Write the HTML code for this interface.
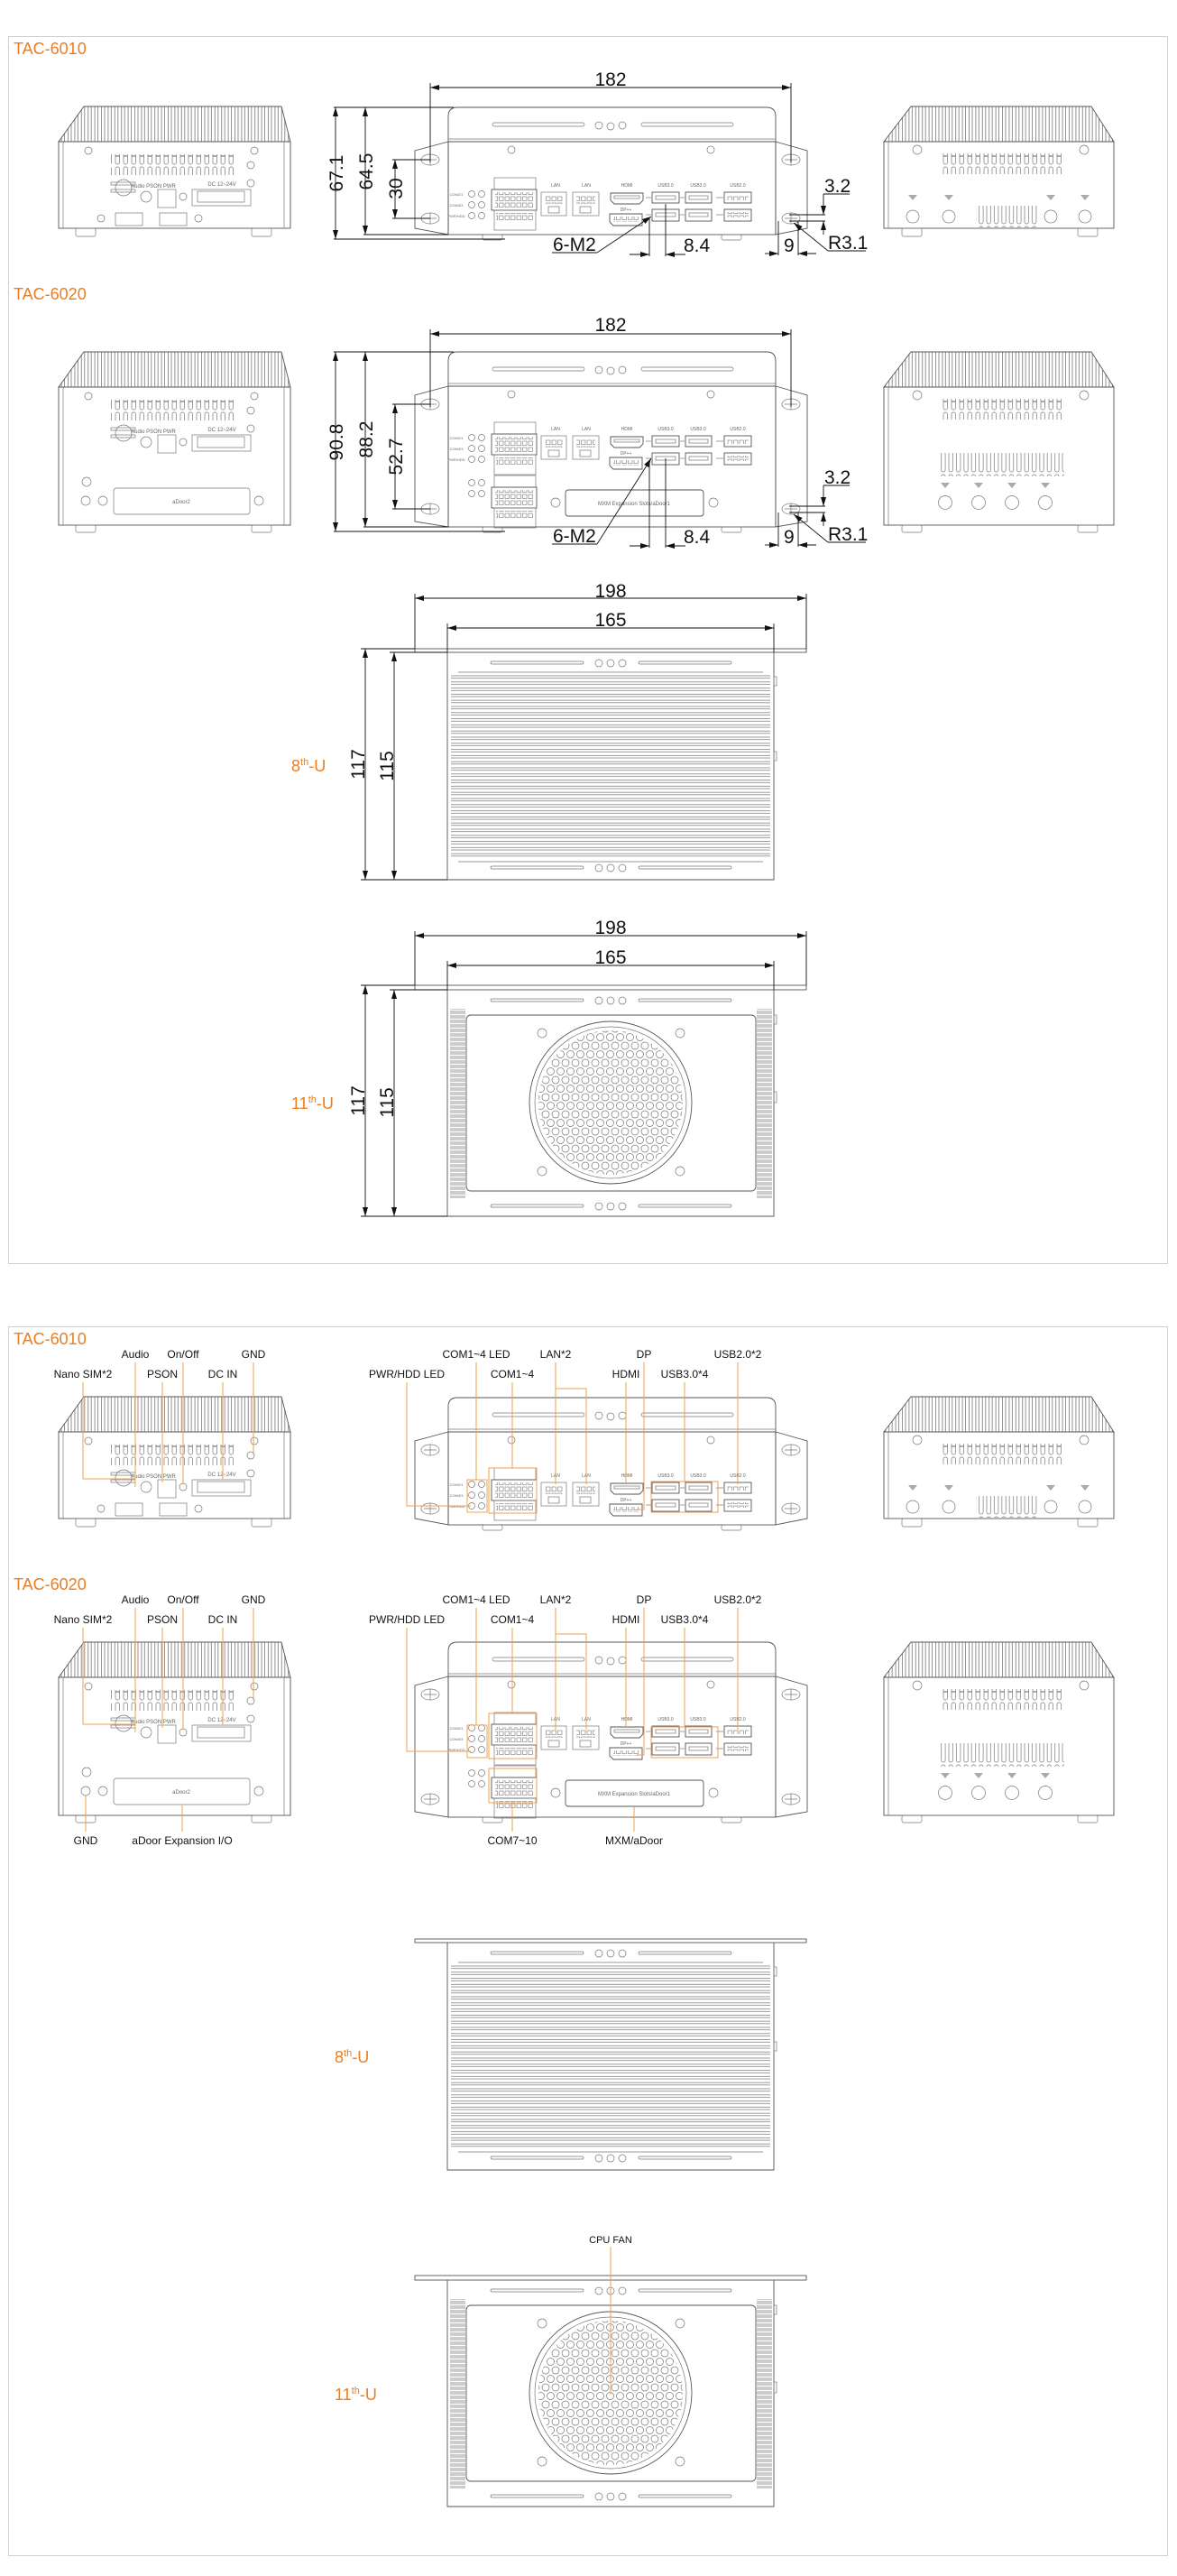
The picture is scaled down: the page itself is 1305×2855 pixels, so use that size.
<!DOCTYPE html>
<html><head><meta charset="utf-8"><style>
html,body{margin:0;padding:0;background:#fff}
svg{display:block}
text{font-family:"Liberation Sans",Arial,sans-serif}
.d{font-size:21px;fill:#111}
.o{fill:#ee7d1a;font-size:18px}
.c{font-size:12px;fill:#111;text-anchor:middle}
.t{font-size:5px;fill:#666;text-anchor:middle}
.s{fill:none;stroke:#555;stroke-width:0.9}
.f{fill:none;stroke:#777;stroke-width:0.7}
.k{fill:none;stroke:#111;stroke-width:0.9}
.ol{fill:none;stroke:#f2a04c;stroke-width:1}
.fin{fill:url(#vf);stroke:#555;stroke-width:0.9}
</style></head><body>
<svg width="1305" height="2855" viewBox="0 0 1305 2855" xmlns="http://www.w3.org/2000/svg">
<defs>
<marker id="ar" viewBox="0 0 10 6" refX="10" refY="3" markerWidth="10" markerHeight="6" orient="auto-start-reverse" markerUnits="userSpaceOnUse"><path d="M0,0 L10,3 L0,6 z" fill="#111"/></marker>
<pattern id="vf" width="7.4" height="10" patternUnits="userSpaceOnUse"><line x1="1.5" y1="0" x2="1.5" y2="10" stroke="#777" stroke-width="0.8"/><line x1="5" y1="0" x2="5" y2="10" stroke="#777" stroke-width="0.8"/></pattern>
<pattern id="vent" width="9" height="23" patternUnits="userSpaceOnUse"><rect x="2" y="1" width="4.5" height="20" rx="2" fill="none" stroke="#777" stroke-width="0.7"/><line x1="2" y1="12" x2="6.5" y2="12" stroke="#777" stroke-width="1.2"/></pattern>
<pattern id="vent2" width="8.4" height="25" patternUnits="userSpaceOnUse"><rect x="2" y="1" width="4.5" height="22" rx="2.2" fill="none" stroke="#777" stroke-width="0.7"/></pattern>
<pattern id="hf" width="20" height="6.8" patternUnits="userSpaceOnUse"><line x1="0" y1="1" x2="20" y2="1" stroke="#777" stroke-width="0.7"/><line x1="0" y1="3.6" x2="20" y2="3.6" stroke="#777" stroke-width="0.7"/></pattern>
<pattern id="hf2" width="20" height="5" patternUnits="userSpaceOnUse"><line x1="0" y1="1" x2="20" y2="1" stroke="#777" stroke-width="0.7"/><line x1="0" y1="3" x2="20" y2="3" stroke="#777" stroke-width="0.7"/></pattern>
<pattern id="hex" width="11" height="19" patternUnits="userSpaceOnUse"><circle cx="0" cy="0" r="4" fill="none" stroke="#777" stroke-width="0.7"/><circle cx="11" cy="0" r="4" fill="none" stroke="#777" stroke-width="0.7"/><circle cx="5.5" cy="9.5" r="4" fill="none" stroke="#777" stroke-width="0.7"/><circle cx="0" cy="19" r="4" fill="none" stroke="#777" stroke-width="0.7"/><circle cx="11" cy="19" r="4" fill="none" stroke="#777" stroke-width="0.7"/></pattern>
<pattern id="pins" width="6.5" height="7" patternUnits="userSpaceOnUse"><rect x="1" y="1" width="4.5" height="4.5" fill="none" stroke="#777" stroke-width="0.6"/></pattern>
<clipPath id="fanc"><circle cx="677" cy="1222" r="80"/></clipPath>

<g id="lfTop">
  <polygon points="93,118 312,118 322,157 65,157" class="fin" style="fill:url(#vf)"/>
  <line x1="65" y1="157" x2="322" y2="157" class="s"/>
  <circle cx="98" cy="167" r="4" class="f"/><circle cx="282" cy="167" r="4" class="f"/>
  <rect x="123" y="171" width="136" height="23" fill="url(#vent)"/>
  <circle cx="278" cy="183" r="4" class="f"/><circle cx="278" cy="203" r="4" class="f"/>
  <rect x="123" y="202" width="27" height="3" class="f"/><rect x="123" y="210" width="27" height="3" class="f"/>
  <circle cx="137" cy="208" r="9" class="f"/>
  <text x="170" y="208" class="t" style="font-size:6px">Audio PSON PWR</text>
  <text x="246" y="206" class="t" style="font-size:6px">DC 12~24V</text>
  <circle cx="162" cy="218" r="6" class="f"/>
  <rect x="175" y="210" width="20" height="20" class="f"/>
  <circle cx="203" cy="218" r="4" class="f"/>
  <rect x="213" y="210" width="65" height="18" class="f"/>
  <rect x="219" y="212" width="52" height="12" class="f"/>
</g>
<g id="lf6010">
  <use href="#lfTop"/>
  <rect x="65" y="157" width="257" height="96" class="s"/>
  <line x1="70" y1="157" x2="70" y2="253" class="f"/><line x1="315" y1="157" x2="315" y2="253" class="f"/>
  <rect x="128" y="236" width="30" height="14" class="f"/><rect x="177" y="236" width="30" height="14" class="f"/>
  <circle cx="112" cy="242" r="4" class="f"/><circle cx="220" cy="242" r="4" class="f"/>
  <rect x="84" y="253" width="22" height="9" rx="2" class="f"/><rect x="279" y="253" width="22" height="9" rx="2" class="f"/>
</g>
<g id="lf6020">
  <use href="#lfTop" transform="translate(0,272)"/>
  <rect x="65" y="429" width="257" height="153" class="s"/>
  <line x1="70" y1="429" x2="70" y2="582" class="f"/><line x1="315" y1="429" x2="315" y2="582" class="f"/>
  <circle cx="96" cy="534" r="5" class="f"/><circle cx="95" cy="555" r="5" class="f"/>
  <rect x="126" y="541" width="151" height="29" rx="3" class="f"/>
  <text x="201" y="558" class="t" style="font-size:6px">aDoor2</text>
  <circle cx="114" cy="555" r="5" class="f"/><circle cx="287" cy="555" r="5" class="f"/>
  <rect x="84" y="582" width="22" height="8" rx="2" class="f"/><rect x="279" y="582" width="22" height="8" rx="2" class="f"/>
</g>

<g id="midTop">
  <path d="M497,157 V129 Q497,119 507,119 H850 Q860,119 860,129 V157" class="s"/>
  <line x1="497" y1="154" x2="860" y2="154" class="f"/>
  <line x1="497" y1="157" x2="860" y2="157" class="s"/>
  <rect x="546" y="136" width="102" height="4" rx="2" class="f"/><rect x="711" y="136" width="102" height="4" rx="2" class="f"/>
  <circle cx="664" cy="139" r="4" class="f"/><circle cx="677" cy="140" r="4" class="f"/><circle cx="690" cy="139" r="4" class="f"/>
  <circle cx="567" cy="166" r="4" class="f"/><circle cx="788" cy="166" r="4" class="f"/>
</g>
<g id="ports">
  <text x="506" y="217" class="t" style="font-size:4px">COM2/1</text><text x="506" y="229" class="t" style="font-size:4px">COM4/3</text><text x="506" y="241" class="t" style="font-size:4px">PWR/HDD</text>
  <circle cx="523" cy="215" r="3.5" class="f"/><circle cx="534" cy="215" r="3.5" class="f"/>
  <circle cx="523" cy="227" r="3.5" class="f"/><circle cx="534" cy="227" r="3.5" class="f"/>
  <circle cx="523" cy="239" r="3.5" class="f"/><circle cx="534" cy="239" r="3.5" class="f"/>
  <text x="616" y="207" class="t">LAN</text><text x="650" y="207" class="t">LAN</text>
  <rect x="600" y="213" width="28" height="26" class="f"/><rect x="604" y="216" width="20" height="10" fill="url(#pins)"/><rect x="608" y="229" width="12" height="7" class="f"/>
  <rect x="635" y="213" width="29" height="26" class="f"/><rect x="639" y="216" width="21" height="10" fill="url(#pins)"/><rect x="643" y="229" width="12" height="7" class="f"/>
  <text x="695" y="207" class="t">HDMI</text>
  <path d="M677,214 H713 V222 L709,226 H681 L677,222 Z" class="s"/><rect x="681" y="217" width="28" height="3" class="f"/>
  <text x="694" y="234" class="t">DP++</text>
  <path d="M676,237 H712 V250 H680 L676,246 Z" class="s"/><rect x="680" y="240" width="29" height="6" fill="url(#pins)"/>
  <text x="738" y="207" class="t">USB3.0</text><text x="774" y="207" class="t">USB3.0</text><text x="818" y="207" class="t">USB2.0</text>
  <rect x="723" y="213" width="30" height="12" class="s"/><rect x="727" y="217" width="22" height="4" class="f"/>
  <rect x="760" y="213" width="29" height="12" class="s"/><rect x="764" y="217" width="21" height="4" class="f"/>
  <rect x="803" y="213" width="30" height="12" class="s"/><rect x="806" y="216" width="24" height="6" fill="url(#pins)"/>
  <rect x="723" y="232" width="30" height="13" class="s"/><rect x="727" y="236" width="22" height="4" class="f"/>
  <rect x="760" y="232" width="29" height="13" class="s"/><rect x="764" y="236" width="21" height="4" class="f"/>
  <rect x="803" y="232" width="30" height="13" class="s"/><rect x="806" y="235" width="24" height="6" fill="url(#pins)"/>
  <line x1="716" y1="219" x2="722" y2="219" class="f"/><line x1="754" y1="219" x2="759" y2="219" class="f"/><line x1="794" y1="219" x2="802" y2="219" class="f"/>
  <line x1="716" y1="238" x2="722" y2="238" class="f"/><line x1="754" y1="238" x2="759" y2="238" class="f"/><line x1="794" y1="238" x2="802" y2="238" class="f"/>
</g>
<g id="comblk">
  <rect x="548" y="197" width="46" height="13" class="f"/>
  <rect x="545" y="210" width="50" height="23" class="s"/>
  <rect x="549" y="213" width="43" height="17" fill="url(#pins)"/>
  <rect x="548" y="233" width="46" height="22" class="f"/>
  <rect x="550" y="236" width="42" height="8" fill="url(#pins)"/>
</g>
<g id="mid6010">
  <use href="#midTop"/>
  <polygon points="497,157 460,167 460,253 497,260" class="s"/>
  <polygon points="860,157 895,167 895,253 860,260" class="s"/>
  <rect x="497" y="157" width="363" height="103" class="s"/>
  <g class="f"><ellipse cx="477" cy="177" rx="10" ry="6"/><ellipse cx="477" cy="242" rx="10" ry="6"/><ellipse cx="877" cy="177" rx="10" ry="6"/><ellipse cx="877" cy="242" rx="10" ry="6"/>
  <path d="M470,177h14M477,171v12M470,242h14M477,236v12M870,177h14M877,171v12M870,242h14M877,236v12"/></g>
  <use href="#ports"/><use href="#comblk"/>
  <rect x="535" y="260" width="22" height="6" rx="2" class="f"/><rect x="800" y="260" width="22" height="6" rx="2" class="f"/>
</g>
<g id="mid6020">
  <use href="#midTop" transform="translate(0,271)"/>
  <polygon points="497,428 460,438 460,578 497,584" class="s"/>
  <polygon points="860,428 895,438 895,578 860,584" class="s"/>
  <rect x="497" y="428" width="363" height="156" class="s"/>
  <g class="f"><ellipse cx="477" cy="448" rx="10" ry="6"/><ellipse cx="477" cy="564" rx="10" ry="6"/><ellipse cx="877" cy="448" rx="10" ry="6"/><ellipse cx="877" cy="564" rx="10" ry="6"/>
  <path d="M470,448h14M477,442v12M470,564h14M477,558v12M870,448h14M877,442v12M870,564h14M877,558v12"/></g>
  <use href="#ports" transform="translate(0,270)"/><use href="#comblk" transform="translate(0,271)"/>
  <use href="#comblk" transform="translate(0,330)"/>
  <circle cx="523" cy="535" r="3.5" class="f"/><circle cx="534" cy="535" r="3.5" class="f"/>
  <circle cx="523" cy="547" r="3.5" class="f"/><circle cx="534" cy="547" r="3.5" class="f"/>
  <rect x="627" y="543" width="153" height="29" rx="3" class="s"/>
  <text x="703" y="560" class="t" style="font-size:6px">MXM Expansion Slots/aDoor1</text>
  <circle cx="616" cy="557" r="5" class="f"/><circle cx="791" cy="557" r="5" class="f"/>
  <rect x="535" y="584" width="22" height="6" rx="2" class="f"/><rect x="800" y="584" width="22" height="6" rx="2" class="f"/>
</g>

<g id="rTop">
  <polygon points="1010,118 1210,118 1235,157 980,157" class="fin" style="fill:url(#vf)"/>
  <circle cx="1017" cy="166" r="5" class="f"/><circle cx="1202" cy="166" r="5" class="f"/>
  <rect x="1042" y="170" width="137" height="23" fill="url(#vent)"/>
</g>
<g id="r6010">
  <use href="#rTop"/>
  <rect x="980" y="157" width="255" height="96" class="s"/><line x1="985" y1="157" x2="985" y2="253" class="f"/>
  <g class="f"><ellipse cx="1012" cy="240" rx="7" ry="7"/><ellipse cx="1052" cy="240" rx="7" ry="7"/><ellipse cx="1165" cy="240" rx="7" ry="7"/><ellipse cx="1203" cy="240" rx="7" ry="7"/></g>
  <g fill="#aaa"><path d="M1007,216 h10 l-5,6z"/><path d="M1047,216 h10 l-5,6z"/><path d="M1160,216 h10 l-5,6z"/><path d="M1198,216 h10 l-5,6z"/></g>
  <rect x="1082" y="228" width="68" height="24" fill="url(#vent2)"/>
  <rect x="1000" y="253" width="22" height="9" rx="2" class="f"/><rect x="1195" y="253" width="22" height="9" rx="2" class="f"/>
</g>
<g id="r6020">
  <use href="#rTop" transform="translate(0,272)"/>
  <rect x="980" y="429" width="255" height="153" class="s"/><line x1="985" y1="429" x2="985" y2="582" class="f"/>
  <rect x="1041" y="502" width="139" height="26" fill="url(#vent2)"/>
  <g fill="#aaa"><path d="M1043,535 h10 l-5,6z"/><path d="M1080,535 h10 l-5,6z"/><path d="M1117,535 h10 l-5,6z"/><path d="M1154,535 h10 l-5,6z"/></g>
  <g class="f"><circle cx="1048" cy="557" r="7.5"/><circle cx="1085" cy="557" r="7.5"/><circle cx="1122" cy="557" r="7.5"/><circle cx="1159" cy="557" r="7.5"/></g>
  <rect x="1000" y="582" width="22" height="8" rx="2" class="f"/><rect x="1195" y="582" width="22" height="8" rx="2" class="f"/>
</g>

<g id="cov">
  <rect x="544" y="733" width="103" height="3" rx="1.5" class="f"/><rect x="708" y="733" width="103" height="3" rx="1.5" class="f"/>
  <circle cx="664" cy="735" r="4" class="f"/><circle cx="677" cy="735" r="4" class="f"/><circle cx="690" cy="735" r="4" class="f"/>
</g>
<g id="top8">
  <rect x="460" y="719" width="434" height="4" class="s"/>
  <path d="M496,723 V975 H858 V723" class="s"/>
  <use href="#cov"/><use href="#cov" transform="translate(0,227)"/>
  <rect x="500" y="748" width="354" height="204" fill="url(#hf)"/>
  <line x1="508" y1="745" x2="846" y2="745" class="f"/><line x1="508" y1="955" x2="846" y2="955" class="f"/>
  <rect x="858" y="750" width="3" height="10" class="f"/><rect x="858" y="833" width="3" height="10" class="f"/>
</g>
<g id="top11">
  <rect x="460" y="1092" width="434" height="5" class="s"/>
  <path d="M496,1097 V1348 H858 V1097" class="s"/>
  <use href="#cov" transform="translate(0,374)"/><use href="#cov" transform="translate(0,602)"/>
  <rect x="499" y="1118" width="17" height="210" fill="url(#hf2)"/><rect x="839" y="1118" width="17" height="210" fill="url(#hf2)"/>
  <rect x="517" y="1125" width="321" height="195" rx="5" class="s"/>
  <circle cx="677" cy="1222" r="90" class="s"/><circle cx="677" cy="1222" r="84" class="f"/>
  <rect x="590" y="1135" width="180" height="180" fill="url(#hex)" clip-path="url(#fanc)"/>
  <g class="f"><circle cx="601" cy="1145" r="5"/><circle cx="754" cy="1145" r="5"/><circle cx="601" cy="1298" r="5"/><circle cx="754" cy="1298" r="5"/></g>
  <rect x="858" y="1125" width="3" height="10" class="f"/><rect x="858" y="1210" width="3" height="12" class="f"/>
</g>

<g id="devs">
  <use href="#lf6010"/><use href="#mid6010"/><use href="#r6010"/>
  <use href="#lf6020"/><use href="#mid6020"/><use href="#r6020"/>
  <use href="#top8"/><use href="#top11"/>
</g>
</defs>

<rect x="9.5" y="40.5" width="1285" height="1360" fill="none" stroke="#d0d0d0"/>
<text x="15" y="60" class="o">TAC-6010</text>
<text x="15" y="332" class="o">TAC-6020</text>
<use href="#devs"/>

<g class="k">
  <line x1="477" y1="97" x2="877" y2="97" marker-start="url(#ar)" marker-end="url(#ar)"/>
  <line x1="477" y1="92" x2="477" y2="180"/><line x1="877" y1="92" x2="877" y2="180"/>
  <line x1="370" y1="119" x2="503" y2="119"/><line x1="370" y1="265" x2="560" y2="265"/><line x1="403" y1="260" x2="497" y2="260"/>
  <line x1="372" y1="119" x2="372" y2="265" marker-start="url(#ar)" marker-end="url(#ar)"/>
  <line x1="405" y1="119" x2="405" y2="260" marker-start="url(#ar)" marker-end="url(#ar)"/>
  <line x1="435" y1="177" x2="477" y2="177"/><line x1="435" y1="242" x2="477" y2="242"/>
  <line x1="438" y1="177" x2="438" y2="242" marker-start="url(#ar)" marker-end="url(#ar)"/>
  <line x1="875" y1="238" x2="915" y2="238"/><line x1="875" y1="245" x2="915" y2="245"/>
  <line x1="913" y1="215" x2="913" y2="238" marker-end="url(#ar)"/><line x1="913" y1="260" x2="913" y2="245" marker-end="url(#ar)"/>
  <line x1="913" y1="215" x2="942" y2="215"/>
  <line x1="918" y1="278" x2="880" y2="247" marker-end="url(#ar)"/><line x1="918" y1="278" x2="960" y2="278"/>
  <line x1="863" y1="245" x2="863" y2="283"/><line x1="885" y1="245" x2="885" y2="283"/>
  <line x1="848" y1="281" x2="863" y2="281" marker-end="url(#ar)"/><line x1="905" y1="281" x2="885" y2="281" marker-end="url(#ar)"/>
  <line x1="720" y1="242" x2="720" y2="284"/><line x1="738" y1="226" x2="738" y2="284"/>
  <line x1="698" y1="282" x2="720" y2="282" marker-end="url(#ar)"/><line x1="760" y1="282" x2="738" y2="282" marker-end="url(#ar)"/>
  <line x1="662" y1="280" x2="722" y2="240" marker-end="url(#ar)"/><line x1="612" y1="280" x2="662" y2="280"/>
</g>
<text x="677" y="95" class="d" text-anchor="middle">182</text>
<text transform="translate(380,192) rotate(-90)" class="d" text-anchor="middle">67.1</text>
<text transform="translate(413,190) rotate(-90)" class="d" text-anchor="middle">64.5</text>
<text transform="translate(446,209) rotate(-90)" class="d" text-anchor="middle">30</text>
<text x="914" y="213" class="d">3.2</text>
<text x="918" y="276" class="d">R3.1</text>
<text x="869" y="279" class="d">9</text>
<text x="758" y="279" class="d">8.4</text>
<text x="613" y="278" class="d">6-M2</text>

<g class="k">
  <line x1="477" y1="370" x2="877" y2="370" marker-start="url(#ar)" marker-end="url(#ar)"/>
  <line x1="477" y1="365" x2="477" y2="451"/><line x1="877" y1="365" x2="877" y2="451"/>
  <line x1="370" y1="390" x2="503" y2="390"/><line x1="370" y1="589" x2="560" y2="589"/><line x1="403" y1="584" x2="497" y2="584"/>
  <line x1="372" y1="390" x2="372" y2="589" marker-start="url(#ar)" marker-end="url(#ar)"/>
  <line x1="405" y1="390" x2="405" y2="584" marker-start="url(#ar)" marker-end="url(#ar)"/>
  <line x1="435" y1="448" x2="477" y2="448"/><line x1="435" y1="564" x2="477" y2="564"/>
  <line x1="438" y1="448" x2="438" y2="564" marker-start="url(#ar)" marker-end="url(#ar)"/>
  <g transform="translate(0,323)">
  <line x1="875" y1="238" x2="915" y2="238"/><line x1="875" y1="245" x2="915" y2="245"/>
  <line x1="913" y1="215" x2="913" y2="238" marker-end="url(#ar)"/><line x1="913" y1="260" x2="913" y2="245" marker-end="url(#ar)"/>
  <line x1="913" y1="215" x2="942" y2="215"/>
  <line x1="918" y1="278" x2="880" y2="247" marker-end="url(#ar)"/><line x1="918" y1="278" x2="960" y2="278"/>
  <line x1="863" y1="245" x2="863" y2="283"/><line x1="885" y1="245" x2="885" y2="283"/>
  <line x1="848" y1="281" x2="863" y2="281" marker-end="url(#ar)"/><line x1="905" y1="281" x2="885" y2="281" marker-end="url(#ar)"/>
  <line x1="720" y1="190" x2="720" y2="284"/><line x1="738" y1="185" x2="738" y2="284"/>
  <line x1="698" y1="282" x2="720" y2="282" marker-end="url(#ar)"/><line x1="760" y1="282" x2="738" y2="282" marker-end="url(#ar)"/>
  <line x1="662" y1="280" x2="722" y2="185" marker-end="url(#ar)"/><line x1="612" y1="280" x2="662" y2="280"/>
  </g>
</g>
<text x="677" y="367" class="d" text-anchor="middle">182</text>
<text transform="translate(380,490) rotate(-90)" class="d" text-anchor="middle">90.8</text>
<text transform="translate(413,487) rotate(-90)" class="d" text-anchor="middle">88.2</text>
<text transform="translate(446,506) rotate(-90)" class="d" text-anchor="middle">52.7</text>
<g transform="translate(0,323)">
<text x="914" y="213" class="d">3.2</text>
<text x="918" y="276" class="d">R3.1</text>
<text x="869" y="279" class="d">9</text>
<text x="758" y="279" class="d">8.4</text>
<text x="613" y="278" class="d">6-M2</text>
</g>

<g class="k">
  <line x1="460" y1="663" x2="894" y2="663" marker-start="url(#ar)" marker-end="url(#ar)"/>
  <line x1="460" y1="658" x2="460" y2="719"/><line x1="894" y1="658" x2="894" y2="719"/>
  <line x1="496" y1="696" x2="858" y2="696" marker-start="url(#ar)" marker-end="url(#ar)"/>
  <line x1="496" y1="691" x2="496" y2="723"/><line x1="858" y1="691" x2="858" y2="723"/>
  <line x1="400" y1="719" x2="460" y2="719"/><line x1="432" y1="723" x2="496" y2="723"/><line x1="400" y1="975" x2="496" y2="975"/>
  <line x1="405" y1="719" x2="405" y2="975" marker-start="url(#ar)" marker-end="url(#ar)"/>
  <line x1="437" y1="723" x2="437" y2="975" marker-start="url(#ar)" marker-end="url(#ar)"/>
  <line x1="460" y1="1037" x2="894" y2="1037" marker-start="url(#ar)" marker-end="url(#ar)"/>
  <line x1="460" y1="1032" x2="460" y2="1092"/><line x1="894" y1="1032" x2="894" y2="1092"/>
  <line x1="496" y1="1070" x2="858" y2="1070" marker-start="url(#ar)" marker-end="url(#ar)"/>
  <line x1="496" y1="1065" x2="496" y2="1097"/><line x1="858" y1="1065" x2="858" y2="1097"/>
  <line x1="400" y1="1092" x2="460" y2="1092"/><line x1="432" y1="1097" x2="496" y2="1097"/><line x1="400" y1="1348" x2="496" y2="1348"/>
  <line x1="405" y1="1092" x2="405" y2="1348" marker-start="url(#ar)" marker-end="url(#ar)"/>
  <line x1="437" y1="1097" x2="437" y2="1348" marker-start="url(#ar)" marker-end="url(#ar)"/>
</g>
<text x="677" y="662" class="d" text-anchor="middle">198</text>
<text x="677" y="694" class="d" text-anchor="middle">165</text>
<text transform="translate(404,847) rotate(-90)" class="d" text-anchor="middle">117</text>
<text transform="translate(436,849) rotate(-90)" class="d" text-anchor="middle">115</text>
<text x="677" y="1035" class="d" text-anchor="middle">198</text>
<text x="677" y="1068" class="d" text-anchor="middle">165</text>
<text transform="translate(404,1220) rotate(-90)" class="d" text-anchor="middle">117</text>
<text transform="translate(436,1222) rotate(-90)" class="d" text-anchor="middle">115</text>
<text x="323" y="855" class="o">8<tspan dy="-7" style="font-size:11px">th</tspan><tspan dy="7">-U</tspan></text>
<text x="323" y="1229" class="o">11<tspan dy="-7" style="font-size:11px">th</tspan><tspan dy="7">-U</tspan></text>

<rect x="9.5" y="1470.5" width="1285" height="1362" fill="none" stroke="#d0d0d0"/>
<text x="15" y="1490" class="o">TAC-6010</text>
<text x="15" y="1762" class="o">TAC-6020</text>
<use href="#devs" transform="translate(0,1430)"/>

<g id="call">
  <g class="ol">
    <path d="M92,1532 V1639 H150"/><path d="M150,1510 V1648"/><path d="M180,1532 V1643"/><path d="M203,1510 V1645"/>
    <path d="M247,1532 V1640"/><path d="M281,1510 V1612"/>
    <path d="M451,1532 V1669 H522"/><path d="M528,1510 V1640"/><rect x="518" y="1640" width="22" height="36"/>
    <path d="M568,1532 V1628"/><rect x="542" y="1627" width="53" height="50"/>
    <path d="M616,1510 V1645 M616,1539 H650 V1645"/>
    <path d="M694,1532 V1643"/><path d="M714,1510 V1673 H706"/>
    <path d="M759,1532 V1642"/><rect x="722" y="1642" width="74" height="34"/>
    <path d="M818,1510 V1645"/>
  </g>
  <text x="92" y="1527" class="c">Nano SIM*2</text><text x="150" y="1505" class="c">Audio</text><text x="180" y="1527" class="c">PSON</text>
  <text x="203" y="1505" class="c">On/Off</text><text x="247" y="1527" class="c">DC IN</text><text x="281" y="1505" class="c">GND</text>
  <text x="451" y="1527" class="c">PWR/HDD LED</text><text x="528" y="1505" class="c">COM1~4 LED</text><text x="568" y="1527" class="c">COM1~4</text>
  <text x="616" y="1505" class="c">LAN*2</text><text x="694" y="1527" class="c">HDMI</text><text x="714" y="1505" class="c">DP</text>
  <text x="759" y="1527" class="c">USB3.0*4</text><text x="818" y="1505" class="c">USB2.0*2</text>
</g>
<use href="#call" transform="translate(0,272)"/>
<g class="ol">
  <path d="M95,2030 V1990"/><path d="M202,2030 V2001"/><path d="M568,2030 V1997"/><path d="M703,2030 V2003"/>
  <rect x="542" y="1960" width="53" height="38"/>
  <path d="M677,2490 V2654"/>
</g>
<text x="95" y="2044" class="c">GND</text>
<text x="202" y="2044" class="c">aDoor Expansion I/O</text>
<text x="568" y="2044" class="c">COM7~10</text>
<text x="703" y="2044" class="c">MXM/aDoor</text>
<text x="677" y="2486" class="c" style="font-size:11px">CPU FAN</text>
<text x="371" y="2286" class="o">8<tspan dy="-7" style="font-size:11px">th</tspan><tspan dy="7">-U</tspan></text>
<text x="371" y="2660" class="o">11<tspan dy="-7" style="font-size:11px">th</tspan><tspan dy="7">-U</tspan></text>
</svg>
</body></html>
